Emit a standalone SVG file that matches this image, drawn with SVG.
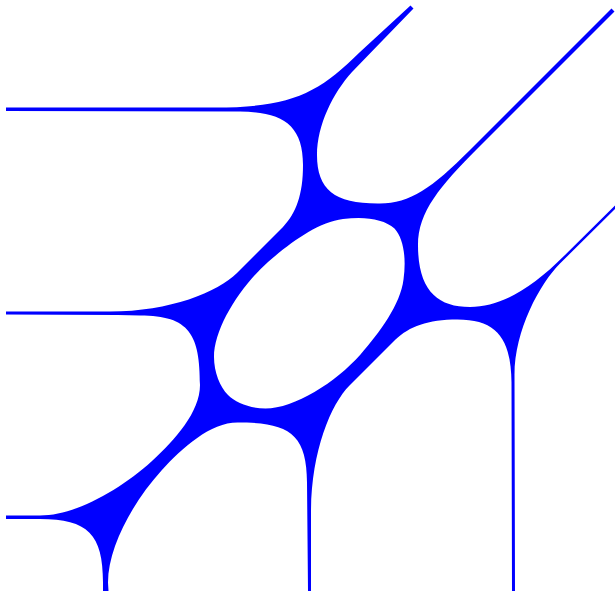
<svg xmlns="http://www.w3.org/2000/svg" width="615" height="591" viewBox="0 0 615 591">
<style>.amoeba{fill:#0000ff;fill-rule:evenodd;stroke:none}</style>
<rect width="615" height="591" fill="#ffffff"/>
<path class="amoeba" d="M6,107.5 L215,107.5 C290,107.5 318,94 360,52 L410.5,5.5 L413.5,8.5 L352,72 C333,93 317,125 317,155 C317,190 335,204 380,203.5 C410,203.5 432,188 470,150 L611.5,8.5 L614.5,11.5 L478,148 C440,186 418,212 418,245 C418,290 437,307 470,307 C500,307 530,290 565,255 L615,205.5 L615,209 L560,263.5 C540,283.5 514.5,330 514.5,375 L515,591 L512,591 L511.5,382.5 C511,339.5 497.5,319.5 457.5,319.5 C427.5,319.5 409.5,326.5 395.5,339.5 L349.5,385.5 C330.5,404.5 311,452.5 311,512.5 L311,591 L308,591 L307,482.5 C307,432.5 287.5,422.5 237.5,422.5 C210.5,422.5 182.5,447.5 161.5,470.5 C132.5,502.5 108,547.5 108,582.5 L108.5,591 L103,591 L103,582.5 C103,534.5 88,519 40,519 L6,519 L6,515.5 L40,515.5 C75,515.5 120,490 152,461 C175,440 200,412 200,385 C200,335 190,315.5 140,315.5 L118,315 L6,314.5 L6,311.5 L110,311.5 C170,311.5 218,292 237,273 L283,227 C296,213 303,195 303,165 C303,125 283,112 240,111.5 L6,111 Z M228,395 C220,387 214,372 214,357 C214,328 240,287 268,262 C290,243 318,222 343,219 C365,216 384,219 394.5,228.5 C403.5,238.5 406.5,257.5 403.5,279.5 C400.5,304.5 379.5,332.5 360.5,354.5 C335.5,382.5 294.5,408.5 265.5,408.5 C250.5,408.5 235.5,402.5 228,395 Z"/>
</svg>
